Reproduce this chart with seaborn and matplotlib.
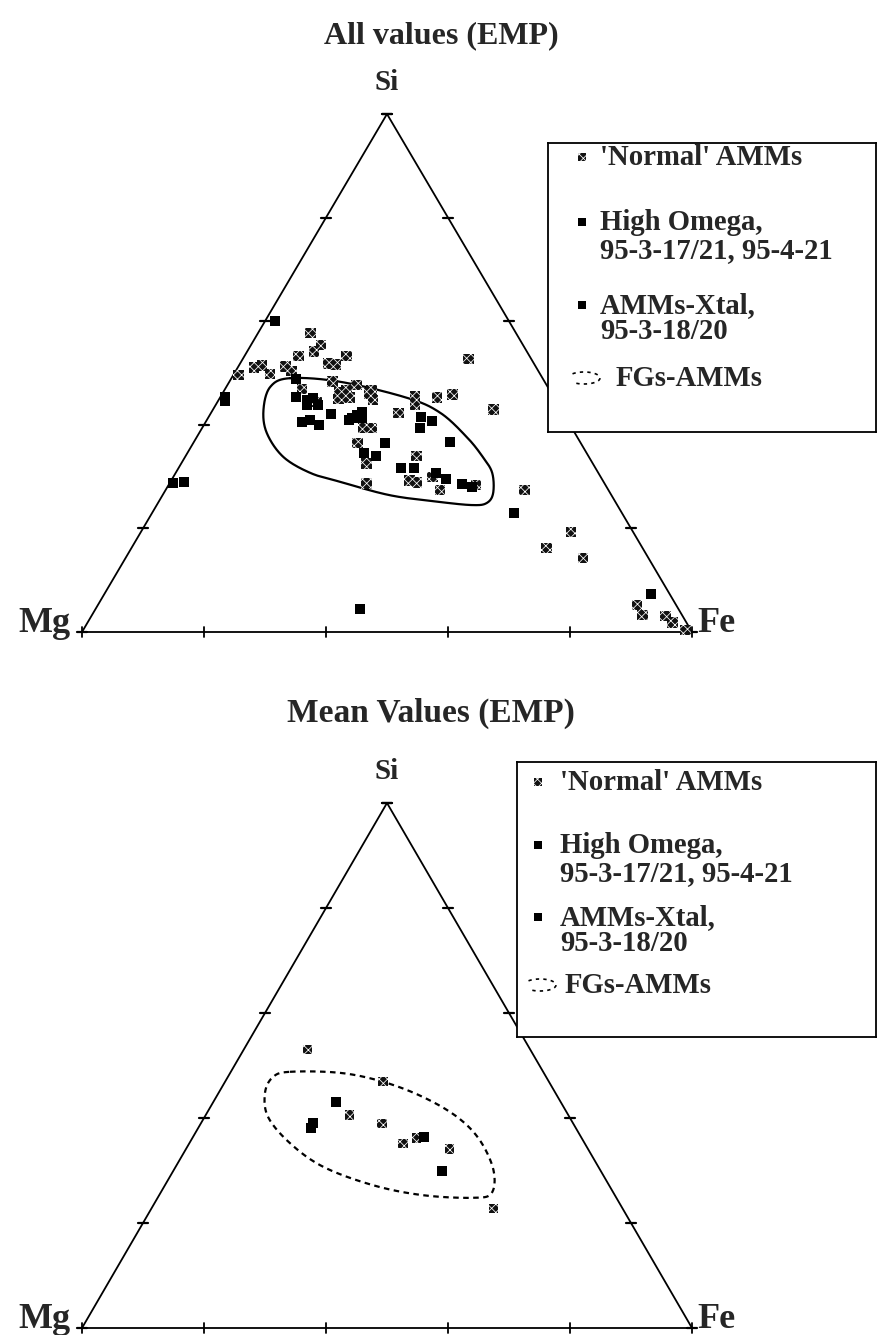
import numpy as np
import pandas as pd
import matplotlib
matplotlib.use("Agg")
import matplotlib.pyplot as plt
import seaborn as sns
from matplotlib.patches import Arc

# ---------------- data: atomic % Si and Fe (Mg = 100 - Si - Fe) ----------------
# upper diagram: all values (EMP)
all_normal_si = [57.7, 55.4, 54.1, 53.3, 53.3, 51.9, 51.7, 51.0, 51.4, 51.2, 50.4, 49.8, 49.6,
                 48.3, 47.7, 46.9, 46.3, 46.7, 45.0, 45.2, 44.4, 36.5, 52.7, 46.1, 44.8, 46.7,
                 45.4, 43.8, 45.2, 45.8, 42.9, 42.3, 39.4, 39.4, 32.6, 34.0, 29.3, 28.8, 29.9,
                 27.4, 28.4, 28.6, 27.4, 19.3, 16.2, 14.3, 5.2, 3.3, 3.1, 1.9, 0.4]
all_normal_fe = [8.6, 11.5, 11.0, 8.8, 16.7, 14.5, 15.7, 2.7, 3.8, 7.7, 9.2, 5.9, 0.8,
                 16.9, 21.1, 12.6, 19.1, 20.0, 19.6, 21.3, 16.3, 26.9, 37.0, 24.1, 25.3, 24.1,
                 31.9, 32.7, 35.6, 37.8, 46.0, 30.7, 26.4, 27.8, 30.4, 37.8, 39.1, 40.5, 42.5,
                 45.0, 50.4, 32.4, 58.9, 70.5, 68.1, 75.0, 88.4, 90.2, 94.1, 95.9, 98.7]
all_omega_si = [48.8, 45.4, 44.8, 45.2, 43.8, 43.8, 42.1, 40.5, 40.9, 40.0, 41.3, 41.9, 42.5,
                40.9, 41.3, 41.5, 40.7, 39.4, 36.7, 36.5, 34.6, 34.0, 31.7, 31.7, 30.7, 29.5,
                28.6, 28.0]
all_omega_fe = [10.7, 12.4, 14.5, 15.3, 15.0, 16.8, 19.8, 15.8, 16.9, 18.9, 23.6, 24.2, 24.7,
                23.4, 25.2, 34.9, 37.0, 35.7, 41.9, 31.5, 28.9, 31.2, 36.5, 38.5, 42.7, 44.9,
                48.0, 49.9]
all_xtal_si = [60.0, 45.4, 44.6, 28.8, 29.0, 23.0, 7.3, 4.4]
all_xtal_fe = [1.6, 0.7, 1.1, 0.5, 2.2, 59.3, 89.6, 43.4]
all_fgs_si = [49.0, 48.3, 45.2, 42.3, 37.6, 33.8, 30.7, 26.8, 24.9, 24.5, 25.1, 26.4, 29.0,
              30.7, 33.8, 38.4, 42.9, 47.3]
all_fgs_fe = [9.6, 18.2, 30.7, 37.6, 44.3, 48.8, 51.9, 54.0, 53.9, 51.8, 46.1, 37.3, 27.8,
              22.1, 16.1, 11.1, 8.3, 7.2]

# lower diagram: mean values (EMP)
mean_normal_si = [53.0, 46.9, 40.6, 39.0, 35.2, 36.2, 34.1, 22.7]
mean_normal_fe = [10.5, 25.9, 23.5, 29.7, 35.0, 36.7, 43.2, 56.1]
mean_omega_si = [43.0, 36.4, 29.9]
mean_omega_fe = [20.1, 37.9, 44.0]
mean_xtal_si = [39.0, 38.1]
mean_xtal_fe = [18.4, 18.5]
mean_fgs_si = [48.8, 48.6, 46.9, 44.0, 40.2, 35.8, 30.1, 25.7, 24.8, 25.3, 27.2, 30.7, 35.2,
               40.2, 44.8, 47.8]
mean_fgs_fe = [9.7, 18.0, 25.9, 33.9, 41.4, 47.3, 52.4, 54.3, 51.7, 43.2, 34.1, 24.2, 16.5,
               10.4, 7.6, 7.4]

titles = ["All values (EMP)", "Mean Values (EMP)"]
vertex_labels = ["Si", "Mg", "Fe"]
legend_labels = ["'Normal' AMMs", ["High Omega,", "95-3-17/21, 95-4-21"],
                 ["AMMs-Xtal,", "95-3-18/20"], "FGs-AMMs"]
tick_fracs = [0, 0.2, 0.4, 0.6, 0.8, 1.0]

# ---------------- style ----------------
sns.set_theme(style="white")
plt.rcParams["font.family"] = ["Liberation Serif", "DejaVu Serif"]
plt.rcParams["font.weight"] = "bold"
plt.rcParams["hatch.linewidth"] = 0.55

W, H = 877, 1335
fig = plt.figure(figsize=(W / 100, H / 100), dpi=100)
fig.patch.set_facecolor("white")

CHECK_FACE = "#111111"


def px_axes(left, top, right, bottom, z=1):
    ax = fig.add_axes([left / W, 1 - bottom / H, (right - left) / W, (bottom - top) / H])
    ax.set_zorder(z)
    return ax


def tern(si, fe):
    si = np.asarray(si, float) / 100.0
    fe = np.asarray(fe, float) / 100.0
    return fe + si / 2.0, si * np.sqrt(3) / 2.0


def closed_spline(x, y, n=30):
    pts = np.column_stack([x, y])
    N = len(pts)
    t = np.linspace(0, 1, n, endpoint=False)[:, None]
    out = []
    for i in range(N):
        p0, p1, p2, p3 = pts[(i - 1) % N], pts[i], pts[(i + 1) % N], pts[(i + 2) % N]
        out.append(0.5 * (2 * p1 + (-p0 + p2) * t + (2 * p0 - 5 * p1 + 4 * p2 - p3) * t ** 2
                          + (-p0 + 3 * p1 - 3 * p2 + p3) * t ** 3))
    out = np.vstack(out + [pts[:1]])
    return out[:, 0], out[:, 1]


def checker_scatter(ax, x, y, s):
    sns.scatterplot(x=x, y=y, marker="s", s=s, color=CHECK_FACE, edgecolor="white",
                    linewidth=0, ax=ax, clip_on=False, zorder=3)
    ax.collections[-1].set_hatch("xxxx")


def draw_ternary(box, normal, omega, xtal, fgs, fgs_style, msize):
    left, top, right, bottom = box
    ax = px_axes(left, top, right, bottom, z=1)
    h = np.sqrt(3) / 2
    ax.set_xlim(0, 1)
    ax.set_ylim(0, h)
    ax.set_axis_off()
    wpx, hpx = right - left, bottom - top
    # triangle
    vx = [0, 1, 0.5, 0]
    vy = [0, 0, h, 0]
    ax.plot(vx, vy, color="black", lw=1.3, solid_joinstyle="miter", clip_on=False)
    hx = 5.0 / wpx
    hy = 5.0 / hpx * h
    for f in tick_fracs:
        for x0 in (0.5 * f, 1 - 0.5 * f):
            y0 = f * h
            ax.plot([x0 - hx, x0 + hx], [y0, y0], color="black", lw=1.6, clip_on=False)
        ax.plot([f, f], [-hy, hy], color="black", lw=1.3, clip_on=False)
    # points
    x, y = tern(*normal)
    checker_scatter(ax, x, y, msize[0])
    for si, fe in (omega, xtal):
        x, y = tern(si, fe)
        sns.scatterplot(x=x, y=y, marker="s", s=msize[1], color="black",
                        linewidth=0, ax=ax, clip_on=False, zorder=3)
    ex, ey = tern(*fgs)
    sx, sy = closed_spline(ex, ey)
    ax.plot(sx, sy, color="black", lw=1.6, **fgs_style)
    ax.set_xlabel("")
    ax.set_ylabel("")
    # vertex labels
    ax.annotate(vertex_labels[0], (0.5, h), xytext=(0, 13), textcoords="offset points",
                ha="center", va="bottom", fontsize=21, fontweight="bold")
    ax.annotate(vertex_labels[1], (0, 0), xytext=(-8, 0), textcoords="offset points",
                ha="right", va="baseline", fontsize=26, fontweight="bold")
    ax.annotate(vertex_labels[2], (1, 0), xytext=(4, 0), textcoords="offset points",
                ha="left", va="baseline", fontsize=26, fontweight="bold")
    return ax


def draw_legend(box, mx, tx, tx_fgs, rows, fs=20.7):
    left, top, right, bottom = box
    ax = px_axes(left, top, right, bottom, z=5)
    ax.set_xlim(left, right)
    ax.set_ylim(bottom, top)
    ax.set_facecolor("white")
    ax.set_xticks([])
    ax.set_yticks([])
    for sp in ax.spines.values():
        sp.set_visible(True)
        sp.set_color("black")
        sp.set_linewidth(1.3)
    y_norm, y_om, y_om2, y_xt, y_xt2, y_fg = rows
    off = 8
    checker_scatter(ax, [mx], [y_norm], 30)
    sns.scatterplot(x=[mx, mx], y=[y_om, y_xt], marker="s", s=30, color="black",
                    linewidth=0, ax=ax, zorder=3)
    ax.set_xlabel("")
    ax.set_ylabel("")
    ax.text(tx, y_norm + off, legend_labels[0], fontsize=fs, fontweight="bold", va="baseline")
    ax.text(tx, y_om + off, legend_labels[1][0], fontsize=fs, fontweight="bold", va="baseline")
    ax.text(tx, y_om2 + off, legend_labels[1][1], fontsize=fs, fontweight="bold", va="baseline")
    ax.text(tx, y_xt + off, legend_labels[2][0], fontsize=fs, fontweight="bold", va="baseline")
    ax.text(tx, y_xt2 + off, legend_labels[2][1], fontsize=fs, fontweight="bold", va="baseline")
    ax.text(tx_fgs, y_fg + off, legend_labels[3], fontsize=fs, fontweight="bold", va="baseline")
    arc = Arc((mx + 2, y_fg), 32, 12, theta1=-160, theta2=160, color="black", lw=1.2,
              ls=(0, (2, 2.5)))
    ax.add_patch(arc)
    return ax


# upper diagram
draw_ternary((82, 114, 692, 632), (all_normal_si, all_normal_fe), (all_omega_si, all_omega_fe),
             (all_xtal_si, all_xtal_fe), (all_fgs_si, all_fgs_fe), {"ls": "-"}, (60, 62))
draw_legend((548, 143, 876, 432), 582, 600, 616, (157, 222, 250, 305, 331, 378))

# lower diagram
draw_ternary((82, 803, 692, 1328), (mean_normal_si, mean_normal_fe),
             (mean_omega_si, mean_omega_fe), (mean_xtal_si, mean_xtal_fe),
             (mean_fgs_si, mean_fgs_fe), {"ls": (0, (2.5, 2.0))}, (45, 50))
draw_legend((517, 762, 876, 1037), 538, 560, 565, (782, 845, 873, 917, 943, 985))

fig.text(441 / W, 1 - 36 / H, titles[0], ha="center", va="center", fontsize=23,
         fontweight="bold")
fig.text(431 / W, 1 - 713 / H, titles[1], ha="center", va="center", fontsize=24,
         fontweight="bold")

fig.savefig("out.png", dpi=100, facecolor="white")
